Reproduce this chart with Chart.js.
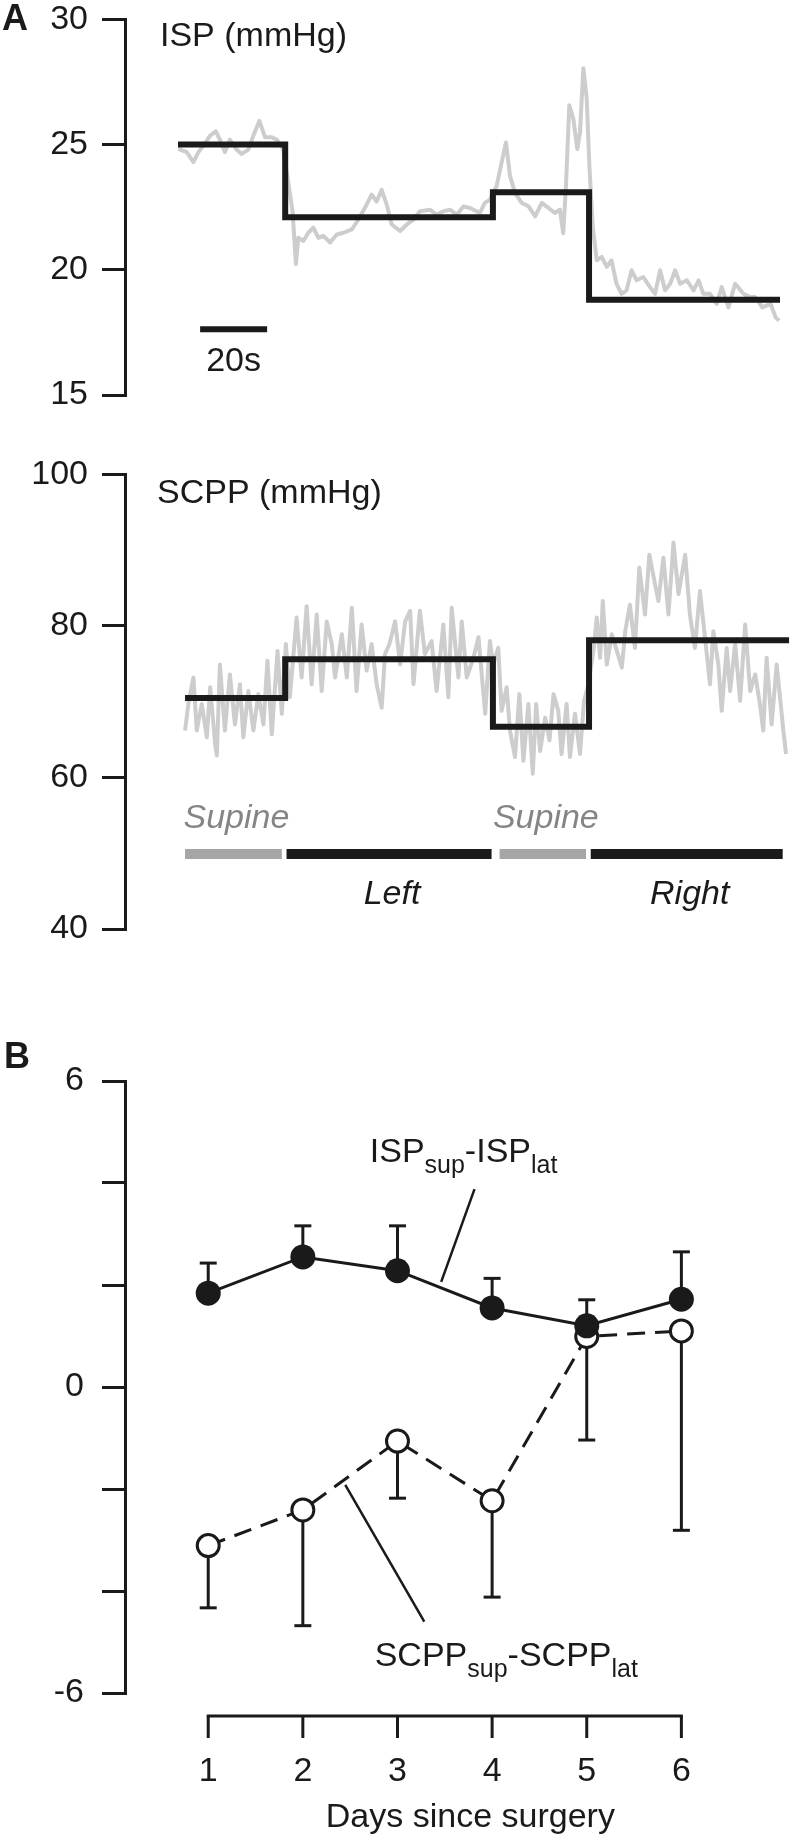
<!DOCTYPE html>
<html>
<head>
<meta charset="utf-8">
<script src="https://cdn.jsdelivr.net/npm/chart.js@4.4.0/dist/chart.umd.min.js"></script>
<style>
  body { margin: 0; background: #fff; width: 792px; height: 1838px; position: relative; overflow: hidden; }
  canvas { position: absolute; left: 0; }
  #ispChart { top: -15px; }
  #scppChart { top: 440px; }
  #dayChart { top: 1020px; }
</style>
</head>
<body>
<canvas id="ispChart" width="792" height="450"></canvas>
<canvas id="scppChart" width="792" height="530"></canvas>
<canvas id="dayChart" width="792" height="818"></canvas>
<script>
// ---- panel A: ISP trace (time in s, mmHg) ----
const ispTime = [
  0.1, 2.6, 4.6, 6.1, 7.6, 9.6, 11.3, 12.5, 14.0, 15.5,
  17.5, 19.0, 21.0, 22.5, 24.3, 26.0, 28.0, 29.5, 31.4, 32.9,
  34.2, 35.2, 35.9, 37.4, 38.9, 40.4, 41.9, 43.4, 45.4, 47.4,
  49.4, 51.9, 53.8, 56.3, 57.8, 59.3, 60.8, 62.3, 63.8, 66.3,
  68.3, 70.3, 72.2, 75.2, 77.2, 79.2, 81.2, 83.2, 85.2, 87.2,
  90.1, 91.6, 93.1, 95.1, 96.6, 97.9, 99.1, 100.6, 102.6, 104.6,
  106.6, 108.6, 110.6, 112.5, 114.0, 115.0, 115.8, 116.8, 118.0, 119.2,
  120.0, 121.0, 122.0, 122.8, 123.8, 125.0, 126.5, 128.0, 129.4, 130.9,
  132.4, 133.9, 135.4, 136.9, 138.9, 140.9, 142.4, 143.9, 145.4, 146.9,
  148.4, 149.9, 151.9, 153.9, 155.4, 156.8, 158.8, 160.8, 162.3, 164.3,
  166.3, 168.8, 170.8, 172.3, 174.4, 176.9, 178.4, 179.4
]
const ispTrace = [
  24.83, 24.7, 24.3, 24.7, 24.96, 25.36, 25.53, 25.2, 24.7, 25.2,
  24.8, 24.63, 24.8, 25.36, 25.95, 25.29, 25.29, 25.2, 24.8, 23.5,
  22.34, 20.23, 21.28, 21.15, 21.48, 21.68, 21.28, 21.35, 21.09, 21.41,
  21.48, 21.61, 22.0, 22.6, 23.0, 22.73, 23.19, 22.6, 21.81, 21.55,
  21.81, 22.0, 22.34, 22.4, 22.2, 22.34, 22.4, 22.2, 22.53, 22.47,
  22.27, 22.67, 22.8, 23.34, 24.28, 25.09, 23.75, 23.07, 22.67, 22.54,
  22.13, 22.67, 22.47, 22.27, 22.4, 21.46, 23.34, 26.57, 26.03, 24.82,
  25.49, 28.05, 26.84, 24.15, 21.73, 20.38, 20.52, 20.12, 20.38, 19.44,
  19.04, 19.18, 19.98, 19.58, 19.71, 19.31, 19.04, 19.98, 19.18, 19.44,
  19.98, 19.44, 19.58, 19.18, 19.58, 19.04, 19.04, 18.64, 19.31, 18.5,
  19.44, 19.04, 18.91, 18.91, 18.5, 18.64, 18.1, 17.97
]
const ispStepTime = [0, 32, 94, 122.7, 179.7]
const ispStepMean = [25, 22.1, 23.1, 18.8, 18.8]

// ---- panel A: SCPP trace ----
const scppTime = [
  2.1, 3.1, 4.6, 5.6, 7.1, 8.6, 9.6, 11.1, 11.6, 12.5,
  14.0, 15.5, 17.0, 18.5, 19.5, 21.0, 22.5, 24.0, 25.5, 26.7,
  28.0, 29.7, 31.0, 32.2, 33.4, 35.4, 36.9, 38.4, 39.9, 41.4,
  42.9, 44.4, 45.9, 46.9, 48.9, 50.4, 51.9, 53.3, 54.8, 56.3,
  57.8, 59.3, 60.8, 61.8, 63.1, 64.8, 66.3, 67.8, 69.3, 70.3,
  72.2, 73.7, 75.7, 77.2, 79.2, 80.7, 81.7, 83.7, 84.7, 86.2,
  88.2, 89.7, 91.7, 93.1, 94.1, 95.6, 96.6, 98.1, 99.1, 100.6,
  101.9, 103.1, 104.6, 105.9, 106.9, 108.1, 109.6, 110.9, 112.1, 113.5,
  114.5, 116.0, 117.0, 118.5, 120.0, 121.2, 122.5, 124.0, 125.0, 126.0,
  126.8, 128.0, 129.5, 131.0, 132.5, 133.5, 134.9, 136.4, 137.7, 139.4,
  140.7, 142.4, 143.4, 144.9, 146.4, 147.9, 149.4, 151.4, 152.8, 154.3,
  155.8, 157.3, 158.8, 159.8, 161.3, 162.3, 163.8, 164.8, 166.3, 167.8,
  169.3, 170.8, 172.3, 173.7, 174.7, 175.7, 177.2, 178.7, 179.7, 180.7,
  181.5
]
const scppTrace = [
  66.2, 69.7, 73.2, 66.2, 69.7, 65.3, 71.9, 64.4, 62.9, 74.9,
  66.2, 73.6, 67.0, 72.3, 65.3, 71.4, 66.2, 71.0, 67.0, 75.4,
  65.7, 76.7, 68.4, 77.6, 70.6, 81.1, 73.2, 82.6, 72.3, 81.5,
  71.4, 80.6, 77.6, 73.2, 78.9, 73.2, 82.4, 71.4, 80.2, 74.1,
  77.6, 72.3, 69.2, 76.3, 77.6, 80.6, 74.9, 80.6, 82.0, 72.3,
  82.0, 76.3, 78.0, 71.4, 80.2, 70.6, 82.4, 73.2, 80.6, 73.2,
  75.8, 78.5, 68.4, 78.0, 74.9, 77.1, 68.8, 71.9, 66.2, 62.7,
  71.0, 62.2, 69.7, 60.5, 69.7, 63.5, 67.9, 64.9, 71.0, 68.8,
  63.1, 69.7, 62.7, 68.4, 63.1, 70.1, 72.3, 76.7, 81.1, 75.8,
  83.3, 74.9, 78.9, 76.7, 74.5, 79.3, 82.8, 77.1, 87.7, 81.5,
  89.4, 85.5, 83.3, 89.0, 81.5, 91.0, 84.2, 89.4, 81.5, 77.1,
  84.6, 78.5, 72.3, 79.3, 74.9, 68.8, 77.1, 71.4, 77.6, 70.1,
  80.2, 71.4, 73.6, 69.7, 66.2, 75.8, 67.0, 74.9, 70.6, 66.2,
  63.1
]
const scppStepTime = [2.1, 32, 94, 122.7, 182.4]
const scppStepMean = [70.5, 75.6, 66.7, 78.1, 78.1]

// body position periods (s)
const postureNames = ['Supine', 'Left', 'Supine', 'Right']
const postureStart = [2.1, 32.4, 96.0, 123.2]
const postureEnd = [31.0, 93.6, 121.8, 180.5]

// ---- panel B: supine minus lateral, mean and SEM ----
const days = [1, 2, 3, 4, 5, 6]
const ispDiff = [1.84, 2.55, 2.28, 1.55, 1.20, 1.72]
const ispDiffSem = [0.59, 0.61, 0.88, 0.58, 0.51, 0.93]
const scppDiff = [-3.11, -2.41, -1.06, -2.23, 0.99, 1.10]
const scppDiffSem = [1.22, 2.27, 1.12, 1.89, 2.03, 3.91]
const dayTickLabels = [6, 0, -6]

const INK = '#1a1a1a'
const TRACE = '#cdcdcd'
const FONT = '"Liberation Sans", Arial, Helvetica, sans-serif'

function label(ctx, str, x, y, opts = {}) {
  ctx.save()
  ctx.font = [opts.style, opts.weight, (opts.size || 34) + 'px', FONT].filter(Boolean).join(' ')
  ctx.fillStyle = opts.color || INK
  ctx.textAlign = opts.align || 'left'
  ctx.textBaseline = 'alphabetic'
  ctx.fillText(str, x, y)
  ctx.restore()
}

// text with subscripts: parts = [[text, isSub], ...]
function subLabel(ctx, parts, x, y) {
  ctx.save()
  ctx.fillStyle = INK
  ctx.textBaseline = 'alphabetic'
  for (const [t, sub] of parts) {
    ctx.font = (sub ? '25px ' : '34px ') + FONT
    ctx.fillText(t, x, sub ? y + 11 : y)
    x += ctx.measureText(t).width
  }
  ctx.restore()
}

function segment(ctx, x0, y0, x1, y1, width, color) {
  ctx.save()
  ctx.strokeStyle = color || INK
  ctx.lineWidth = width
  ctx.lineCap = 'butt'
  ctx.beginPath()
  ctx.moveTo(x0, y0)
  ctx.lineTo(x1, y1)
  ctx.stroke()
  ctx.restore()
}

function yAxis(min, max, step, pad, callback) {
  const ticks = { stepSize: step, padding: pad, color: INK, font: { family: FONT, size: 34 } }
  if (callback) ticks.callback = callback
  return {
    min: min, max: max,
    ticks: ticks,
    grid: { drawOnChartArea: false, tickLength: 23, color: INK, lineWidth: 3 },
    border: { color: INK, width: 3 },
    afterFit: s => { s.width = 125 }
  }
}

const pts = (xs, ys) => xs.map((v, i) => ({ x: v, y: ys[i] }))
const quiet = { legend: { display: false }, tooltip: { enabled: false } }

// time axis shared by both traces: 0 s sits 53 px right of the y axis
const timeAxis = { type: 'linear', display: false, min: -15.82, max: 183.28 }

const ispMarks = {
  id: 'ispMarks',
  afterDraw(chart) {
    const { ctx, scales: { x, y } } = chart
    label(ctx, 'A', 2, 45, { weight: 'bold', size: 36 })
    label(ctx, 'ISP (mmHg)', 160, 61)
    // 20 s scale bar
    const x0 = x.getPixelForValue(6.6), x1 = x.getPixelForValue(26.6)
    const yb = y.getPixelForValue(17.63)
    segment(ctx, x0, yb, x1, yb, 6)
    label(ctx, '20s', (x0 + x1) / 2, yb + 42, { align: 'center' })
  }
}

new Chart(document.getElementById('ispChart'), {
  type: 'line',
  data: {
    datasets: [{
      data: pts(ispStepTime, ispStepMean),
      stepped: 'before', borderColor: INK, borderWidth: 6,
      borderJoinStyle: 'miter', pointRadius: 0
    }, {
      data: pts(ispTime, ispTrace),
      borderColor: TRACE, borderWidth: 4, borderJoinStyle: 'round',
      pointRadius: 0, tension: 0
    }]
  },
  options: {
    responsive: false, animation: false, events: [],
    layout: { padding: { top: 30, bottom: 40, left: 0, right: 0 } },
    scales: { x: timeAxis, y: yAxis(15, 30, 5, 14) },
    plugins: quiet
  },
  plugins: [ispMarks]
})

const scppMarks = {
  id: 'scppMarks',
  afterDraw(chart) {
    const { ctx, scales: { x, y } } = chart
    label(ctx, 'SCPP (mmHg)', 157, 63)
    const yb = y.getPixelForValue(49.9)
    postureNames.forEach((name, i) => {
      const x0 = x.getPixelForValue(postureStart[i])
      const x1 = x.getPixelForValue(postureEnd[i])
      const supine = name === 'Supine'
      segment(ctx, x0, yb, x1, yb, 10, supine ? '#a6a6a6' : INK)
      label(ctx, name, (x0 + x1) / 2 + 3, supine ? yb - 26 : yb + 50,
        { style: 'italic', align: 'center', color: supine ? '#858585' : INK })
    })
  }
}

new Chart(document.getElementById('scppChart'), {
  type: 'line',
  data: {
    datasets: [{
      data: pts(scppStepTime, scppStepMean),
      stepped: 'before', borderColor: INK, borderWidth: 6,
      borderJoinStyle: 'miter', pointRadius: 0
    }, {
      data: pts(scppTime, scppTrace),
      borderColor: TRACE, borderWidth: 4, borderJoinStyle: 'round',
      pointRadius: 0, tension: 0
    }]
  },
  options: {
    responsive: false, animation: false, events: [],
    layout: { padding: { top: 30, bottom: 41, left: 0, right: 0 } },
    scales: { x: timeAxis, y: yAxis(40, 100, 20, 14) },
    plugins: quiet
  },
  plugins: [scppMarks]
})

const dayMarks = {
  id: 'dayMarks',
  beforeDatasetsDraw(chart) {
    const { ctx, scales: { x, y } } = chart
    days.forEach((d, i) => {
      const px = x.getPixelForValue(d)
      const up = y.getPixelForValue(ispDiff[i] + ispDiffSem[i])
      segment(ctx, px, y.getPixelForValue(ispDiff[i]), px, up, 3)
      segment(ctx, px - 8.5, up, px + 8.5, up, 3)
      const down = y.getPixelForValue(scppDiff[i] - scppDiffSem[i])
      segment(ctx, px, y.getPixelForValue(scppDiff[i]), px, down, 3)
      segment(ctx, px - 8.5, down, px + 8.5, down, 3)
    })
  },
  afterDraw(chart) {
    const { ctx, chartArea, scales: { x, y } } = chart
    // detached day axis
    const yb = chartArea.bottom + 23
    const first = x.getPixelForValue(days[0]), last = x.getPixelForValue(days[days.length - 1])
    segment(ctx, first - 1.5, yb, last + 1.5, yb, 3)
    days.forEach(d => {
      const px = x.getPixelForValue(d)
      segment(ctx, px, yb, px, yb + 22, 3)
    })
    label(ctx, 'Days since surgery', x.getPixelForValue(3.77), chartArea.bottom + 134, { align: 'center' })
    label(ctx, 'B', 4, 48, { weight: 'bold', size: 36 })
    // series labels with leader lines
    subLabel(ctx, [['ISP', false], ['sup', true], ['-ISP', false], ['lat', true]],
      x.getPixelForValue(2.707), y.getPixelForValue(4.41))
    segment(ctx, x.getPixelForValue(3.814), y.getPixelForValue(3.88),
      x.getPixelForValue(3.462), y.getPixelForValue(2.06), 2.5)
    subLabel(ctx, [['SCPP', false], ['sup', true], ['-SCPP', false], ['lat', true]],
      x.getPixelForValue(2.759), y.getPixelForValue(-5.48))
    segment(ctx, x.getPixelForValue(2.448), y.getPixelForValue(-1.92),
      x.getPixelForValue(3.283), y.getPixelForValue(-4.60), 2.5)
  }
}

new Chart(document.getElementById('dayChart'), {
  type: 'line',
  data: {
    datasets: [{
      label: 'ISPsup-ISPlat',
      data: pts(days, ispDiff),
      borderColor: INK, borderWidth: 3, tension: 0,
      pointRadius: 12.5, pointBackgroundColor: INK, pointBorderColor: INK, pointBorderWidth: 0
    }, {
      label: 'SCPPsup-SCPPlat',
      data: pts(days, scppDiff),
      borderColor: INK, borderWidth: 3, borderDash: [18, 10], tension: 0,
      pointRadius: 11, pointBackgroundColor: '#fff', pointBorderColor: INK, pointBorderWidth: 3
    }]
  },
  options: {
    responsive: false, animation: false, events: [],
    layout: { padding: { top: 61, bottom: 5, left: 0, right: 0 } },
    scales: {
      x: {
        type: 'linear', min: 0.1206, max: 7.021,
        grid: { display: false, drawTicks: false },
        border: { display: false },
        ticks: { padding: 58, maxRotation: 0, color: INK, font: { family: FONT, size: 34 } },
        afterBuildTicks: s => { s.ticks = days.map(d => ({ value: d })) },
        afterFit: s => { s.height = 140 }
      },
      y: yAxis(-6, 6, 2, 18, v => dayTickLabels.includes(v) ? String(v) : '')
    },
    plugins: quiet
  },
  plugins: [dayMarks]
})
</script>
</body>
</html>
